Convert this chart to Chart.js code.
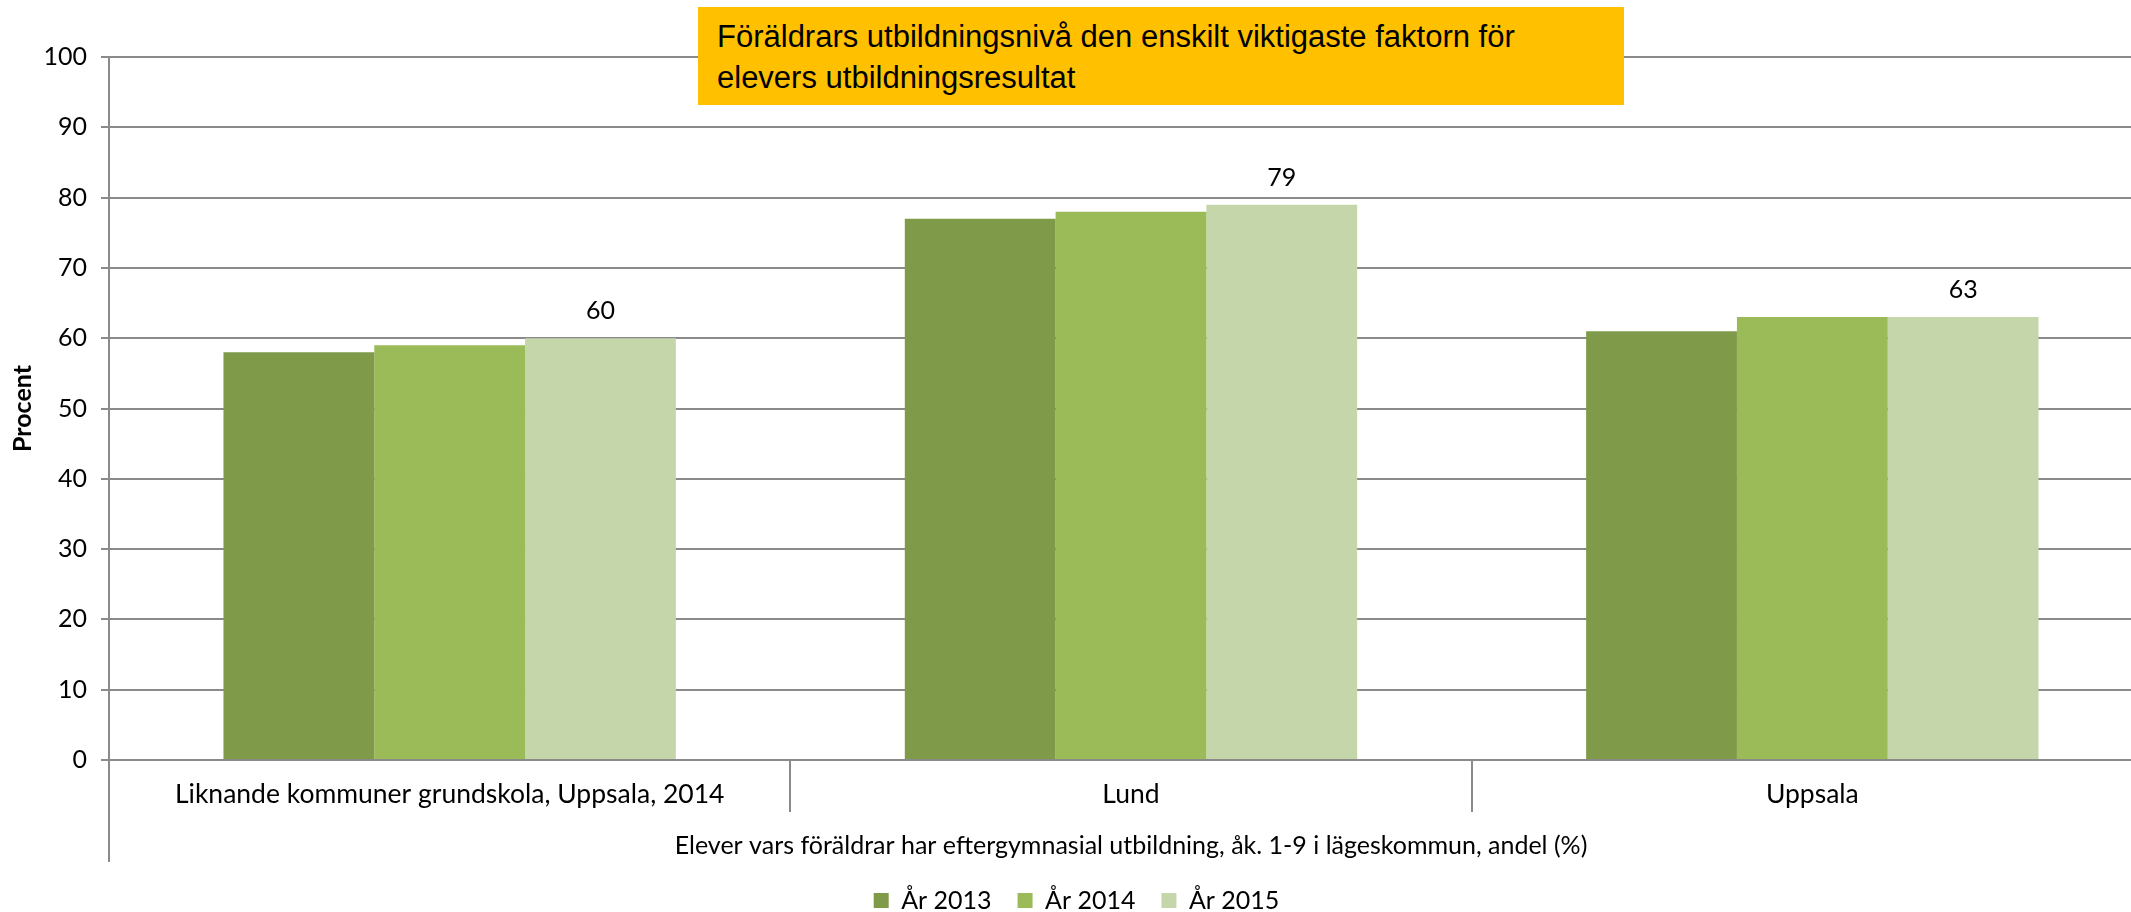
<!DOCTYPE html>
<html>
<head>
<meta charset="utf-8">
<script src="https://cdn.jsdelivr.net/npm/chart.js@4.4.1/dist/chart.umd.min.js"></script>
<style>
body{margin:0;overflow:hidden;background:#fff;width:2131px;height:912px;position:relative}
#chart{position:absolute;left:0;top:0}
#box{position:absolute;left:698px;top:7px;width:907px;height:89px;padding:9px 0 0 19px;background:#FFC000;
  font-family:"Liberation Sans Narrow","Liberation Sans",sans-serif;font-size:31px;line-height:41px;color:#000}
</style>
</head>
<body>
<canvas id="chart" width="2163" height="912"></canvas>
<div id="box">Föräldrars utbildningsnivå den enskilt viktigaste faktorn för<br>elevers utbildningsresultat</div>
<script>
const categories = ['Liknande kommuner grundskola, Uppsala, 2014', 'Lund', 'Uppsala']
const seriesNames = ['År 2013', 'År 2014', 'År 2015']
const values2013 = [58, 77, 61]
const values2014 = [59, 78, 63]
const values2015 = [60, 79, 63]
const colors = ['#7F9A48', '#9BBB59', '#C6D6AB']
const yMin = 0, yMax = 100, yStep = 10

const FONT = 'Lato, "Open Sans", sans-serif'
const GRID = '#8a8a8a'

// value labels above the 2015 bars only
const valueLabels = {
  id: 'valueLabels',
  afterDatasetsDraw(chart){
    const ctx = chart.ctx
    const meta = chart.getDatasetMeta(2)
    ctx.save()
    ctx.font = '25px ' + FONT
    ctx.fillStyle = '#000'
    ctx.textAlign = 'center'
    ctx.textBaseline = 'middle'
    meta.data.forEach((bar, i) => {
      ctx.fillText(values2015[i], bar.x, bar.y - 27)
    })
    ctx.restore()
  }
}

// y axis line continues down past the category labels
const axisExtend = {
  id: 'axisExtend',
  afterDraw(chart){
    const ctx = chart.ctx
    const x = chart.chartArea.left
    ctx.save()
    ctx.strokeStyle = GRID
    ctx.lineWidth = 2
    ctx.beginPath()
    ctx.moveTo(x, chart.chartArea.bottom)
    ctx.lineTo(x, 862)
    ctx.stroke()
    ctx.restore()
  }
}

new Chart('chart', {
  type: 'bar',
  data: {
    labels: categories,
    datasets: [
      {label: seriesNames[0], data: values2013, backgroundColor: colors[0]},
      {label: seriesNames[1], data: values2014, backgroundColor: colors[1]},
      {label: seriesNames[2], data: values2015, backgroundColor: colors[2]}
    ]
  },
  options: {
    responsive: false,
    animation: false,
    categoryPercentage: 0.664,
    barPercentage: 1,
    layout: {padding: {top: 57, left: 0, right: 10, bottom: -11}},
    plugins: {
      tooltip: {enabled: false},
      legend: {
        position: 'bottom',
        labels: {
          font: {family: FONT, size: 25},
          color: '#000',
          boxWidth: 15,
          boxHeight: 15,
          padding: 26
        }
      }
    },
    scales: {
      x: {
        afterFit(scale){ scale.height = 102 },
        grid: {display: true, drawOnChartArea: false, drawTicks: true, tickLength: 52, color: GRID, lineWidth: 2, offset: true},
        border: {display: true, color: GRID, width: 2},
        ticks: {font: {family: FONT, size: 26.5}, color: '#000', padding: -33, maxRotation: 0},
        title: {
          display: true,
          text: 'Elever vars föräldrar har eftergymnasial utbildning, åk. 1-9 i lägeskommun, andel (%)',
          font: {family: FONT, size: 25},
          color: '#000',
          padding: {top: 0, bottom: 1}
        }
      },
      y: {
        min: yMin,
        max: yMax,
        afterFit(scale){ scale.width = 109 },
        grid: {color: GRID, lineWidth: 2, tickLength: 8},
        border: {display: true, color: GRID, width: 2},
        ticks: {stepSize: yStep, font: {family: FONT, size: 25}, color: '#000', padding: 14},
        title: {
          display: true,
          text: 'Procent',
          font: {family: FONT, size: 25, weight: 'bold'},
          color: '#000',
          padding: {top: 8, bottom: 0}
        }
      }
    }
  },
  plugins: [valueLabels, axisExtend]
})
</script>
</body>
</html>
